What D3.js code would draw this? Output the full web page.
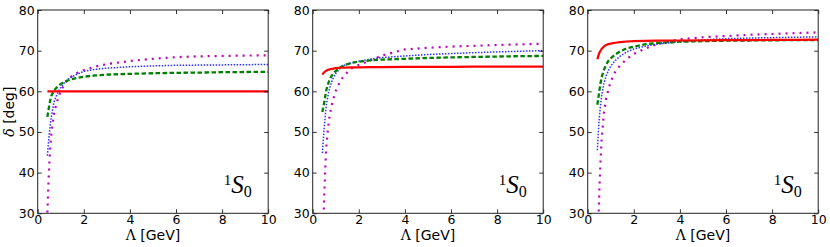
<!DOCTYPE html>
<html>
<head>
<meta charset="utf-8">
<script src="https://cdn.jsdelivr.net/npm/d3@7"></script>
<style>
  body { margin: 0; background: #fff; }
  svg { display: block; }
  .tick text { font-family: "DejaVu Sans", sans-serif; font-size: 12.5px; fill: #000; }
</style>
</head>
<body>
<div id="chart"></div>
<script>
// cutoff grid, GeV
var lambda = [0.42, 0.46, 0.5, 0.55, 0.6, 0.7, 0.8, 0.9, 1.0, 1.2, 1.4, 1.7, 2, 2.5, 3, 4, 5, 6, 7, 8, 9, 10];

// panel 1
var p1Red     = [60, 60, 60, 60, 60, 60, 60, 60, 60, 60, 60, 60, 60, 60, 60, 60, 60, 60, 60, 60, 60, 60];
var p1Green   = [53.7, 55.2, 56.5, 57.9, 59.0, 60.1, 60.8, 61.3, 61.8, 62.4, 62.9, 63.3, 63.6, 63.9, 64.1, 64.3, 64.45, 64.55, 64.6, 64.7, 64.75, 64.8];
var p1Blue    = [44.2, 46.9, 49.4, 52.1, 54.0, 57.2, 58.8, 60.0, 60.9, 62.5, 63.3, 64.2, 64.9, 65.4, 65.7, 66.05, 66.25, 66.4, 66.45, 66.5, 66.55, 66.6];
var p1Magenta = [30.2, 36.5, 41.8, 46.6, 50.1, 54.3, 56.7, 58.6, 60.1, 62.1, 63.4, 64.5, 65.2, 66.1, 66.7, 67.45, 68.0, 68.4, 68.6, 68.7, 68.8, 68.85];

// panel 2
var p2Red     = [64.1, 64.4, 64.7, 64.9, 65.1, 65.35, 65.5, 65.6, 65.7, 65.8, 65.85, 65.9, 65.9, 65.95, 65.95, 66.0, 66.0, 66.0, 66.05, 66.05, 66.05, 66.05];
var p2Green   = [54.9, 56.1, 57.3, 59.0, 60.5, 62.4, 63.6, 64.4, 65.0, 65.9, 66.5, 67.0, 67.3, 67.6, 67.8, 68.0, 68.2, 68.35, 68.45, 68.55, 68.65, 68.7];
var p2Blue    = [44.8, 48.1, 51.1, 54.3, 57.0, 60.0, 62.0, 63.4, 64.4, 65.7, 66.5, 67.0, 67.4, 67.9, 68.3, 68.7, 69.05, 69.3, 69.5, 69.7, 69.85, 70.0];
var p2Magenta = [null, 27.5, 34.3, 41.8, 47.2, 52.7, 56.0, 58.3, 60.1, 62.6, 64.1, 65.7, 66.5, 67.6, 68.8, 70.3, 70.7, 71.0, 71.2, 71.4, 71.55, 71.7];

// panel 3
var p3Red     = [67.9, 68.7, 69.35, 69.9, 70.4, 71.0, 71.4, 71.6, 71.75, 71.95, 72.1, 72.25, 72.35, 72.4, 72.45, 72.5, 72.55, 72.6, 72.6, 72.65, 72.65, 72.7];
var p3Green   = [56.7, 58.3, 59.9, 61.8, 63.4, 65.2, 66.6, 67.5, 68.1, 69.1, 69.8, 70.6, 71.0, 71.6, 71.9, 72.2, 72.35, 72.45, 72.5, 72.55, 72.6, 72.6];
var p3Blue    = [45.5, 49.9, 53.3, 56.3, 58.7, 61.9, 63.8, 65.1, 66.2, 67.6, 68.6, 69.7, 70.4, 71.1, 71.6, 72.2, 72.65, 72.95, 73.1, 73.2, 73.3, 73.4];
var p3Magenta = [null, 27.0, 34.8, 42.0, 47.8, 54.6, 58.2, 60.5, 62.4, 64.9, 66.3, 68.0, 69.2, 70.5, 71.6, 72.8, 73.3, 73.6, 73.9, 74.1, 74.3, 74.5];

var xTicks = [0, 2, 4, 6, 8, 10];
var yTicks = [30, 40, 50, 60, 70, 80];

var panels = [
  { red: p1Red, green: p1Green, blue: p1Blue, magenta: p1Magenta },
  { red: p2Red, green: p2Green, blue: p2Blue, magenta: p2Magenta },
  { red: p3Red, green: p3Green, blue: p3Blue, magenta: p3Magenta }
];

var styles = [
  { key: "magenta", color: "#bf00bf", width: 2.2, dash: "2,5" },
  { key: "blue",    color: "#3030ff", width: 1.5, dash: "1.5,1.5" },
  { key: "green",   color: "#008000", width: 2.3, dash: "4.5,2.5" },
  { key: "red",     color: "#ff0000", width: 2.2, dash: null }
];

var W = 830, H = 247,
    plotW = 230.5, plotH = 203.3,
    plotTop = 10, lefts = [37.7, 312.7, 587.7];

var svg = d3.select("#chart").append("svg")
  .attr("width", W)
  .attr("height", H);

var x = d3.scaleLinear().domain([0, 10]).range([0, plotW]);
var y = d3.scaleLinear().domain([30, 80]).range([plotH, 0]);

panels.forEach(function (p, i) {
  var g = svg.append("g").attr("transform", "translate(" + lefts[i] + "," + plotTop + ")");

  g.append("clipPath").attr("id", "clip" + i)
    .append("rect").attr("width", plotW).attr("height", plotH);

  var lines = g.append("g").attr("clip-path", "url(#clip" + i + ")");

  styles.forEach(function (s) {
    var vals = p[s.key];
    var line = d3.line()
      .defined(function (d, j) { return vals[j] != null; })
      .x(function (d) { return x(d); })
      .y(function (d, j) { return y(vals[j]); });
    lines.append("path")
      .attr("d", line(lambda))
      .attr("fill", "none")
      .attr("stroke", s.color)
      .attr("stroke-width", s.width)
      .attr("stroke-dasharray", s.dash);
  });

  // axes, ticks inward on all four sides
  var ax = [
    { a: d3.axisBottom(x).tickValues(xTicks).tickSize(-4).tickPadding(2), t: "translate(0," + plotH + ")", labels: true },
    { a: d3.axisTop(x).tickValues(xTicks).tickSize(-4), t: "translate(0,0)", labels: false },
    { a: d3.axisLeft(y).tickValues(yTicks).tickSize(-4).tickPadding(3), t: "translate(0,0)", labels: true },
    { a: d3.axisRight(y).tickValues(yTicks).tickSize(-4), t: "translate(" + plotW + ",0)", labels: false }
  ];
  ax.forEach(function (o) {
    var ag = g.append("g").attr("transform", o.t).call(o.a.tickFormat(d3.format("d")));
    ag.select(".domain").remove();
    ag.selectAll(".tick line").attr("stroke", "#000").attr("stroke-width", 0.8);
    if (!o.labels) ag.selectAll(".tick text").remove();
  });

  g.append("rect")
    .attr("width", plotW).attr("height", plotH)
    .attr("fill", "none").attr("stroke", "#222").attr("stroke-width", 1);

  var xl = g.append("text")
    .attr("x", plotW / 2).attr("y", plotH + 27)
    .attr("text-anchor", "middle")
    .style("font-family", "DejaVu Sans, sans-serif")
    .style("font-size", "14px");
  xl.append("tspan").style("font-family", "DejaVu Serif, serif").text("\u039B");
  xl.append("tspan").text(" [GeV]");

  var lab = g.append("text")
    .attr("x", 186).attr("y", 183)
    .style("font-family", "Liberation Serif, serif");
  lab.append("tspan").style("font-size", "15px").attr("dy", -8).text("1");
  lab.append("tspan").style("font-size", "25px").style("font-style", "italic").attr("dy", 8).text("S");
  lab.append("tspan").style("font-size", "16px").attr("dy", 4).text("0");

  if (i === 0) {
    var yl = g.append("text")
      .attr("transform", "translate(-24," + (plotH / 2) + ") rotate(-90)")
      .attr("text-anchor", "middle")
      .style("font-family", "DejaVu Sans, sans-serif")
      .style("font-size", "14px");
    yl.append("tspan").style("font-family", "DejaVu Serif, serif").style("font-style", "italic").text("\u03B4");
    yl.append("tspan").text(" [deg]");
  }
});
</script>
</body>
</html>
